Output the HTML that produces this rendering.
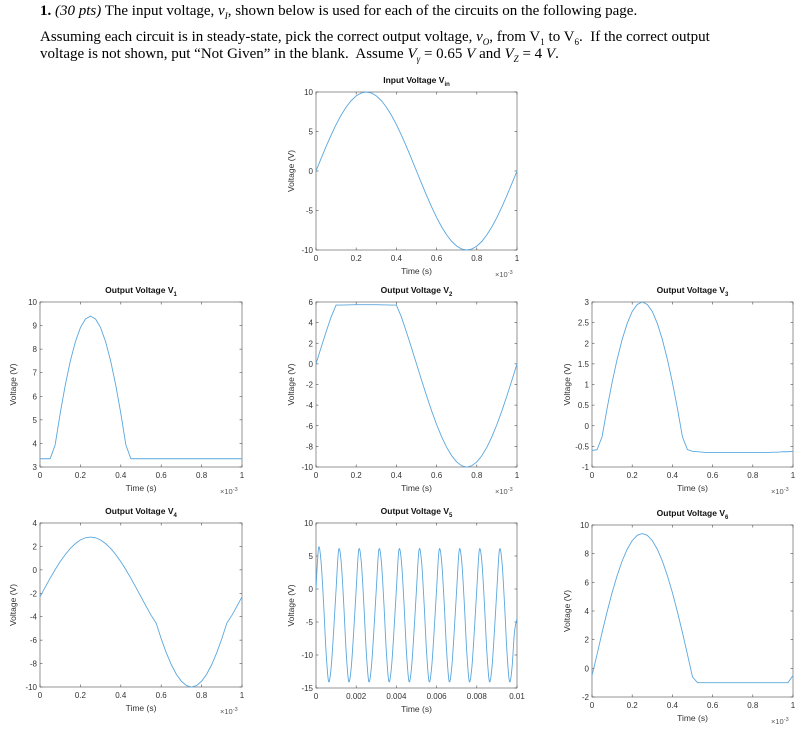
<!DOCTYPE html>
<html><head><meta charset="utf-8"><style>
body{margin:0;background:#fff;width:806px;height:735px;overflow:hidden;position:relative;font-family:"Liberation Serif",serif;}
.p{position:absolute;left:40px;font-size:15px;color:#000;white-space:nowrap;margin:0}
svg{position:absolute;left:0;top:0}
</style></head><body>
<p class="p" style="top:3px"><b>1.</b> <i>(30 pts)</i> The input voltage, <i>v<sub style="font-size:9px">I</sub></i>, shown below is used for each of the circuits on the following page.</p>
<p class="p" style="top:29px">Assuming each circuit is in steady-state, pick the correct output voltage, <i>v<sub style="font-size:9px">O</sub></i>, from V<sub style="font-size:9px">1</sub> to V<sub style="font-size:9px">6</sub>.&nbsp; If the correct output</p>
<p class="p" style="top:46px">voltage is not shown, put “Not Given” in the blank.&nbsp; Assume <i>V<sub style="font-size:9px">γ</sub></i> = 0.65 <i>V</i> and <i>V<sub style="font-size:9px">Z</sub></i> = 4 <i>V</i>.</p>
<svg id="s" width="806" height="735"></svg>
<script>
const tMs = [];for(let k=0;k<=40;k++)tMs.push(k*0.025);
const vin=[0,1.56,3.09,4.54,5.88,7.07,8.09,8.91,9.51,9.88,10,9.88,9.51,8.91,8.09,7.07,5.88,4.54,3.09,1.56,0,-1.56,-3.09,-4.54,-5.88,-7.07,-8.09,-8.91,-9.51,-9.88,-10,-9.88,-9.51,-8.91,-8.09,-7.07,-5.88,-4.54,-3.09,-1.56,0];
const v1=[3.35,3.35,3.35,3.94,5.28,6.47,7.49,8.31,8.91,9.28,9.4,9.28,8.91,8.31,7.49,6.47,5.28,3.94,3.35,3.35,3.35,3.35,3.35,3.35,3.35,3.35,3.35,3.35,3.35,3.35,3.35,3.35,3.35,3.35,3.35,3.35,3.35,3.35,3.35,3.35,3.35];
const v2=[0,1.56,3.09,4.54,5.7,5.7,5.72,5.73,5.74,5.74,5.74,5.74,5.74,5.73,5.72,5.7,5.7,4.54,3.09,1.56,0,-1.56,-3.09,-4.54,-5.88,-7.07,-8.09,-8.91,-9.51,-9.88,-10,-9.88,-9.51,-8.91,-8.09,-7.07,-5.88,-4.54,-3.09,-1.56,0];
const v3=[-0.6,-0.58,-0.27,0.42,1.05,1.61,2.09,2.48,2.77,2.94,3.0,2.94,2.77,2.48,2.09,1.61,1.05,0.42,-0.27,-0.58,-0.62,-0.63,-0.64,-0.65,-0.65,-0.65,-0.65,-0.65,-0.65,-0.65,-0.65,-0.65,-0.65,-0.65,-0.65,-0.65,-0.64,-0.64,-0.63,-0.63,-0.62];
const v4=[-2.3,-1.5,-0.72,0.02,0.7,1.3,1.83,2.24,2.55,2.74,2.8,2.74,2.55,2.24,1.83,1.3,0.7,0.02,-0.72,-1.5,-2.3,-3.1,-3.88,-4.54,-5.88,-7.07,-8.09,-8.91,-9.51,-9.88,-10,-9.88,-9.51,-8.91,-8.09,-7.07,-5.88,-4.54,-3.88,-3.1,-2.3];
const v6=[-0.5,0.96,2.49,3.94,5.28,6.47,7.49,8.31,8.91,9.28,9.4,9.28,8.91,8.31,7.49,6.47,5.28,3.94,2.49,0.96,-0.6,-1,-1,-1,-1,-1,-1,-1,-1,-1,-1,-1,-1,-1,-1,-1,-1,-1,-1,-1,-0.5];
const t5=[];for(let k=0;k<=80;k++)t5.push(k*0.000125);
const v5=[0,6.2,4.2,-2,-9.5,-14,-12,-6.5, 0,5.9,4.2,-2,-9.5,-14,-12,-6.5, 0,5.9,4.2,-2,-9.5,-14,-12,-6.5, 0,5.9,4.2,-2,-9.5,-14,-12,-6.5, 0,5.9,4.2,-2,-9.5,-14,-12,-6.5, 0,5.9,4.2,-2,-9.5,-14,-12,-6.5, 0,5.9,4.2,-2,-9.5,-14,-12,-6.5, 0,5.9,4.2,-2,-9.5,-14,-12,-6.5, 0,5.9,4.2,-2,-9.5,-14,-12,-6.5, 0,5.9,4.2,-2,-9.5,-14,-12,-6.5, -4.5];
const msTicks=[0,0.2,0.4,0.6,0.8,1];
const sTicks=[0,0.002,0.004,0.006,0.008,0.01];

const NS="http://www.w3.org/2000/svg",S=document.getElementById('s');
function el(t,a,txt){const e=document.createElementNS(NS,t);for(const k in a)e.setAttribute(k,a[k]);if(txt!=null)e.textContent=txt;S.appendChild(e);return e;}
const charts=[
{n:'input',title:'Input Voltage V',sub:'in',L:316,R:517,T:92,B:250,x:tMs,y:vin,xd:[0,1],xt:msTicks,yd:[-10,10],yt:[-10,-5,0,5,10],yl:294,mult:true,smooth:false},
{n:'v1',title:'Output Voltage V',sub:'1',L:40,R:242,T:302,B:467,x:tMs,y:v1,xd:[0,1],xt:msTicks,yd:[3,10],yt:[3,4,5,6,7,8,9,10],yl:16,mult:true},
{n:'v2',title:'Output Voltage V',sub:'2',L:316,R:517,T:302,B:467,x:tMs,y:v2,xd:[0,1],xt:msTicks,yd:[-10,6],yt:[-10,-8,-6,-4,-2,0,2,4,6],yl:294,mult:true},
{n:'v3',title:'Output Voltage V',sub:'3',L:592,R:793,T:302,B:467,x:tMs,y:v3,xd:[0,1],xt:msTicks,yd:[-1,3],yt:[-1,-0.5,0,0.5,1,1.5,2,2.5,3],yl:570,mult:true},
{n:'v4',title:'Output Voltage V',sub:'4',L:40,R:242,T:523,B:687,x:tMs,y:v4,xd:[0,1],xt:msTicks,yd:[-10,4],yt:[-10,-8,-6,-4,-2,0,2,4],yl:16,mult:true},
{n:'v5',title:'Output Voltage V',sub:'5',L:316,R:517,T:523,B:688,x:t5,y:v5,xd:[0,0.01],xt:sTicks,yd:[-15,10],yt:[-15,-10,-5,0,5,10],yl:294,mult:false,smooth:true},
{n:'v6',title:'Output Voltage V',sub:'6',L:592,R:793,T:525,B:697,x:tMs,y:v6,xd:[0,1],xt:msTicks,yd:[-2,10],yt:[-2,0,2,4,6,8,10],yl:570,mult:true}
];
charts.forEach(c=>{
 const sx=v=>c.L+(v-c.xd[0])/(c.xd[1]-c.xd[0])*(c.R-c.L);
 const sy=v=>c.B-(v-c.yd[0])/(c.yd[1]-c.yd[0])*(c.B-c.T);
 let r=el('rect',{x:c.L,y:c.T,width:c.R-c.L,height:c.B-c.T,fill:'none',stroke:'#4d4d4d','stroke-width':0.6});
 
 c.xt.forEach(v=>{const X=sx(v);
  el('line',{x1:X,x2:X,y1:c.B,y2:c.B-2.5,stroke:'#4d4d4d','stroke-width':0.6});
  el('line',{x1:X,x2:X,y1:c.T,y2:c.T+2.5,stroke:'#4d4d4d','stroke-width':0.6});
  const t=el('text',{x:X,y:c.B+11,'font-size':8,'text-anchor':'middle',fill:'#333','font-family':'Liberation Sans,sans-serif'},String(v));
  });
 c.yt.forEach(v=>{const Y=sy(v);
  el('line',{x1:c.L,x2:c.L+2.5,y1:Y,y2:Y,stroke:'#4d4d4d','stroke-width':0.6});
  el('line',{x1:c.R,x2:c.R-2.5,y1:Y,y2:Y,stroke:'#4d4d4d','stroke-width':0.6});
  const t=el('text',{x:c.L-3,y:Y+3,'font-size':8,'text-anchor':'end',fill:'#333','font-family':'Liberation Sans,sans-serif'},String(v));
  });
 const pts=c.x.map((v,i)=>[sx(v),sy(c.y[i])]);
 let d='M'+pts[0][0]+','+pts[0][1];
 if(c.smooth){for(let i=0;i<pts.length-1;i++){const p0=pts[Math.max(0,i-1)],p1=pts[i],p2=pts[i+1],p3=pts[Math.min(pts.length-1,i+2)];
   d+=' C'+(p1[0]+(p2[0]-p0[0])/6)+','+(p1[1]+(p2[1]-p0[1])/6)+' '+(p2[0]-(p3[0]-p1[0])/6)+','+(p2[1]-(p3[1]-p1[1])/6)+' '+p2[0]+','+p2[1];}}
 else pts.slice(1).forEach(p=>d+=' L'+p[0]+','+p[1]);
 const ln=el('path',{d:d,fill:'none',stroke:'#5aa7de','stroke-width':0.9});
 
 const cx=(c.L+c.R)/2;
 const ti=el('text',{x:cx,y:c.T-9,'font-size':8.5,'font-weight':'bold','text-anchor':'middle',fill:'#111','font-family':'Liberation Sans,sans-serif'},c.title);
 const ts=document.createElementNS(NS,'tspan');ts.setAttribute('font-size',6);ts.setAttribute('dy',3);ts.textContent=c.sub;ti.appendChild(ts);
 
 const xl=el('text',{x:cx,y:c.B+24,'font-size':8.5,'text-anchor':'middle',fill:'#333','font-family':'Liberation Sans,sans-serif'},'Time (s)');
 
 const Ym=(c.T+c.B)/2;
 const yl=el('text',{x:c.yl,y:Ym,'font-size':8.5,'text-anchor':'middle',fill:'#333','font-family':'Liberation Sans,sans-serif',transform:'rotate(-90 '+c.yl+' '+Ym+')'},'Voltage (V)');
 
 if(c.mult){const m=el('text',{x:c.R-22,y:c.B+27,'font-size':7.5,fill:'#555','font-family':'Liberation Sans,sans-serif'},'×10');
  const e=document.createElementNS(NS,'tspan');e.setAttribute('font-size',5.5);e.setAttribute('dy',-3);e.textContent='-3';m.appendChild(e);
  }
});
</script>
</body></html>
